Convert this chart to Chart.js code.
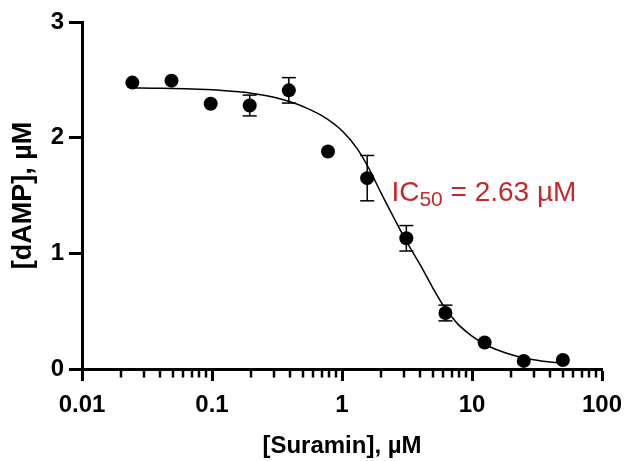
<!DOCTYPE html>
<html>
<head>
<meta charset="utf-8">
<script src="https://cdn.jsdelivr.net/npm/chart.js@4.4.0/dist/chart.umd.min.js"></script>
<style>
  html, body { margin: 0; padding: 0; background: #fff; }
  #wrap { width: 624px; height: 461px; }
</style>
</head>
<body>
<div id="wrap"><canvas id="ic50Chart" width="624" height="461"></canvas></div>
<script>
// measured points, [Suramin] in uM
var conc = [0.0244, 0.0488, 0.0977, 0.195, 0.39, 0.78, 1.5625, 3.125, 6.25, 12.5, 25, 50];
var damp = [2.476, 2.493, 2.293, 2.278, 2.409, 1.881, 1.650, 1.130, 0.484, 0.229, 0.070, 0.078];
var dampErr = [0, 0, 0, 0.09, 0.11, 0, 0.196, 0.11, 0.068, 0, 0, 0];

// fitted curve
var fitX = [0.025, 0.035, 0.05, 0.07, 0.1, 0.15, 0.2, 0.3, 0.4, 0.5, 0.7, 1.0, 1.3, 1.6, 2.0, 2.5, 3.0, 3.5, 4.0, 5.0, 6.0, 7.0, 8.0, 10, 13, 18, 25, 35, 50];
var fitY = [2.43, 2.427, 2.425, 2.42, 2.415, 2.40, 2.385, 2.35, 2.31, 2.27, 2.19, 2.06, 1.91, 1.74, 1.52, 1.31, 1.14, 1.01, 0.90, 0.70, 0.55, 0.45, 0.375, 0.285, 0.205, 0.14, 0.095, 0.068, 0.052];

var xTicks = [0.01, 0.1, 1, 10, 100];
var xTickLabels = ['0.01', '0.1', '1', '10', '100'];
var yTicks = [0, 1, 2, 3];

var FONT = "'Liberation Sans', Arial, sans-serif";

var points = conc.map(function(c, i) { return {x: c, y: damp[i]}; });
var curve = fitX.map(function(c, i) { return {x: c, y: fitY[i]}; });
var bars = [];
conc.forEach(function(c, i) {
  if (dampErr[i] > 0) {
    bars.push({x: c, y: damp[i] - dampErr[i]});
    bars.push({x: c, y: damp[i] + dampErr[i]});
    bars.push({x: c, y: null});
  }
});

// 2..9 within each decade
var minorTicks = [];
xTicks.slice(0, -1).forEach(function(d) {
  for (var k = 2; k <= 9; k++) minorTicks.push(d * k);
});

var minorTickMarks = {
  id: 'minorTickMarks',
  afterDraw: function(chart) {
    var ctx = chart.ctx, sx = chart.scales.x;
    var y0 = chart.chartArea.bottom + 1.5;
    ctx.save();
    ctx.strokeStyle = '#000';
    ctx.lineWidth = 2.5;
    ctx.beginPath();
    minorTicks.forEach(function(v) {
      var px = Math.round(sx.getPixelForValue(v));
      ctx.moveTo(px, y0);
      ctx.lineTo(px, y0 + 7);
    });
    ctx.stroke();
    ctx.restore();
  }
};

// IC50 label, subscript needs manual drawing
var ic50Label = {
  id: 'ic50Label',
  afterDatasetsDraw: function(chart) {
    var ctx = chart.ctx;
    var x = chart.scales.x.getPixelForValue(2.4);
    var y = chart.scales.y.getPixelForValue(1.45);
    ctx.save();
    ctx.fillStyle = '#c4282b';
    ctx.textBaseline = 'alphabetic';
    ctx.textAlign = 'left';
    ctx.font = '28px ' + FONT;
    ctx.fillText('IC', x, y);
    x += ctx.measureText('IC').width;
    ctx.font = '21px ' + FONT;
    ctx.fillText('50', x, y + 5);
    x += ctx.measureText('50').width;
    ctx.font = '28px ' + FONT;
    ctx.fillText(' = 2.63 \u00b5M', x, y);
    ctx.restore();
  }
};

new Chart(document.getElementById('ic50Chart'), {
  type: 'scatter',
  data: {
    datasets: [{
      label: 'dAMP',
      data: points,
      backgroundColor: '#000',
      borderColor: '#000',
      pointRadius: 7,
      pointHoverRadius: 7,
      pointBorderWidth: 0,
      order: 0
    }, {
      label: 'SEM',
      data: bars,
      showLine: true,
      spanGaps: false,
      borderColor: '#000',
      borderWidth: 1.5,
      pointStyle: 'line',
      pointRadius: 7,
      pointBorderWidth: 1.5,
      pointBorderColor: '#000',
      order: 1
    }, {
      label: 'fit',
      data: curve,
      showLine: true,
      borderColor: '#000',
      borderWidth: 1.5,
      pointRadius: 0,
      cubicInterpolationMode: 'monotone',
      order: 2
    }]
  },
  options: {
    responsive: false,
    animation: false,
    layout: { padding: { top: 22, right: 22, left: 0, bottom: 0 } },
    plugins: { legend: { display: false }, tooltip: { enabled: false } },
    scales: {
      x: {
        type: 'logarithmic',
        position: 'bottom',
        min: 0.01,
        max: 100,
        afterBuildTicks: function(scale) {
          scale.ticks = xTicks.map(function(v) { return {value: v}; });
        },
        afterFit: function(scale) {
          scale.height = 92;
          scale.paddingLeft = 0;
          scale.paddingRight = 0;
        },
        ticks: {
          autoSkip: false,
          maxRotation: 0,
          padding: 10,
          color: '#000',
          font: { family: FONT, size: 24, weight: 'bold' },
          callback: function(v, i) { return xTickLabels[i]; }
        },
        grid: { drawOnChartArea: false, color: '#000', tickLength: 12, tickWidth: 3 },
        border: { color: '#000', width: 3 },
        title: {
          display: true,
          text: '[Suramin], \u00b5M',
          color: '#000',
          padding: { top: 7, bottom: 0 },
          font: { family: FONT, size: 24, weight: 'bold' }
        }
      },
      y: {
        type: 'linear',
        min: 0,
        max: 3,
        afterBuildTicks: function(scale) {
          scale.ticks = yTicks.map(function(v) { return {value: v}; });
        },
        afterFit: function(scale) { scale.width = 82; },
        ticks: {
          padding: 5,
          color: '#000',
          font: { family: FONT, size: 24, weight: 'bold' }
        },
        grid: { drawOnChartArea: false, color: '#000', tickLength: 13, tickWidth: 3 },
        border: { color: '#000', width: 3 },
        title: {
          display: true,
          text: '[dAMP], \u00b5M',
          color: '#000',
          padding: { top: 7, bottom: 0 },
          font: { family: FONT, size: 27, weight: 'bold' }
        }
      }
    }
  },
  plugins: [minorTickMarks, ic50Label]
});
</script>
</body>
</html>
